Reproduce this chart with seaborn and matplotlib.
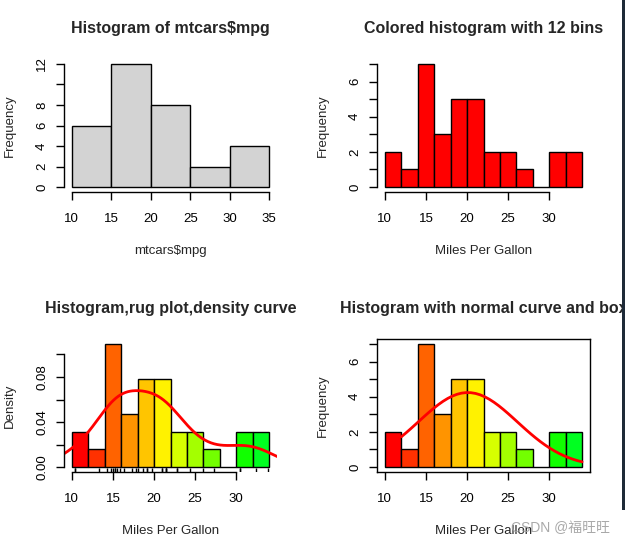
import numpy as np
import pandas as pd
import matplotlib
matplotlib.use("Agg")
import matplotlib.pyplot as plt
import seaborn as sns
from matplotlib.patches import Rectangle

# ---------------- data ----------------
mpg = [21.0, 21.0, 22.8, 21.4, 18.7, 18.1, 14.3, 24.4, 22.8, 19.2, 17.8,
       16.4, 17.3, 15.2, 10.4, 10.4, 14.7, 32.4, 30.4, 33.9, 21.5, 15.5,
       15.2, 13.3, 19.2, 27.3, 26.0, 30.4, 15.8, 19.7, 15.0, 21.4]

edges5 = [10, 15, 20, 25, 30, 35]
counts5 = [6, 12, 8, 2, 4]

edges12 = [10, 12, 14, 16, 18, 20, 22, 24, 26, 28, 30, 32, 34]
counts12 = [2, 1, 7, 3, 5, 5, 2, 2, 1, 0, 2, 2]

titles = ["Histogram of mtcars$mpg", "Colored histogram with 12 bins",
          "Histogram,rug plot,density curve", "Histogram with normal curve and box"]
xlabels = ["mtcars$mpg", "Miles Per Gallon", "Miles Per Gallon", "Miles Per Gallon"]
ylabels = ["Frequency", "Frequency", "Density", "Frequency"]

fit_range = [12, 34]   # x-range of the normal curve as drawn
n_fit = 40

bar_colors = ["#FF0000", "#FF3100", "#FF6300", "#FF9400", "#FFC500", "#FFF200",
              "#D6FF00", "#A4FF00", "#73FF00", "#42FF00", "#11FF00", "#00FF21"]

# ---------------- style ----------------
sns.set_theme(style="ticks")
plt.rcParams["font.family"] = ["Liberation Sans", "DejaVu Sans"]
plt.rcParams["axes.edgecolor"] = "black"
plt.rcParams["axes.linewidth"] = 1.0
plt.rcParams["xtick.color"] = "black"
plt.rcParams["ytick.color"] = "black"

W, H = 626, 542
fig = plt.figure(figsize=(W / 100, H / 100), dpi=100)
fig.patch.set_facecolor("white")


def make_ax(x0, x1, y0, y1):
    return fig.add_axes([x0 / W, 1 - y1 / H, (x1 - x0) / W, (y1 - y0) / H])


def r_limits(ax, xlo, xhi, ylo, yhi):
    dx = (xhi - xlo) * 0.04
    dy = (yhi - ylo) * 0.04
    ax.set_xlim(xlo - dx, xhi + dx)
    ax.set_ylim(ylo - dy, yhi + dy)


def r_axis(ax, xticks, yticks, ylabs, title, xlab, ylab, box=False):
    ax.set_xticks(xticks)
    ax.set_xticklabels([str(t) for t in xticks])
    ax.set_yticks(yticks)
    ax.set_yticklabels(ylabs)
    ax.tick_params(axis="both", direction="out", length=5.5, width=1,
                   labelsize=9.5, colors="black")
    ax.tick_params(axis="x", pad=9.5)
    ax.tick_params(axis="y", pad=6, labelrotation=90)
    plt.setp(ax.get_yticklabels(), va="center", ha="right")
    if box:
        for s in ax.spines.values():
            s.set_visible(True)
            s.set_color("black")
            s.set_linewidth(1)
    else:
        ax.spines["top"].set_visible(False)
        ax.spines["right"].set_visible(False)
        ax.spines["bottom"].set_bounds(xticks[0], xticks[-1])
        ax.spines["left"].set_bounds(yticks[0], yticks[-1])
    ax.set_xlabel(xlab, fontsize=9.5, va="center")
    ax.set_ylabel(ylab, fontsize=9.5, va="center")
    ax.xaxis.set_label_coords(0.5, -0.44)
    ax.yaxis.set_label_coords(-0.255, 0.5)
    ax.text(0.5, 1.23, title, transform=ax.transAxes, ha="center",
            va="center", fontsize=11.5, fontweight="bold", clip_on=False)
    ax.set_facecolor("white")


def mids(edges):
    return [(a + b) / 2 for a, b in zip(edges[:-1], edges[1:])]


# ---------------- panel 1 ----------------
ax1 = make_ax(64, 277, 59, 192)
sns.histplot(x=mids(edges5), weights=counts5, bins=edges5, stat="count",
             color="#D3D3D3", edgecolor="black", linewidth=1, alpha=1, ax=ax1)
r_limits(ax1, 10, 35, 0, 12)
r_axis(ax1, edges5, [0, 2, 4, 6, 8, 10, 12], ["0", "2", "4", "6", "8", "", "12"],
       titles[0], xlabels[0], ylabels[0])

# ---------------- panel 2 ----------------
ax2 = make_ax(377, 590, 59, 192)
sns.histplot(x=mids(edges12), weights=counts12, bins=edges12, stat="count",
             color="#FF0000", edgecolor="black", linewidth=1, alpha=1, ax=ax2)
r_limits(ax2, 10, 34, 0, max(counts12))
r_axis(ax2, [10, 15, 20, 25, 30], list(range(8)),
       ["0", "", "2", "", "4", "", "6", ""], titles[1], xlabels[1], ylabels[1])

# ---------------- panel 3 ----------------
ax3 = make_ax(64, 277, 339, 472)
sns.histplot(x=mids(edges12), weights=counts12, bins=edges12, stat="density",
             color="#FF0000", edgecolor="black", linewidth=1, alpha=1, ax=ax3)
for p, c in zip(ax3.patches, bar_colors):
    p.set_facecolor(c)
x = np.array(mpg)
q1, q3 = np.percentile(x, [25, 75])
bw = 0.9 * min(x.std(ddof=1), (q3 - q1) / 1.34) * len(x) ** -0.2
sns.kdeplot(x=x, bw_method=bw / x.std(ddof=1), cut=3, gridsize=400,
            color="red", linewidth=2, ax=ax3)
sns.rugplot(x=x, height=0.03, color="black", linewidth=1, ax=ax3)
dmax = max(counts12) / (sum(counts12) * 2)
r_limits(ax3, 10, 34, 0, dmax)
r_axis(ax3, [10, 15, 20, 25, 30], [0, 0.02, 0.04, 0.06, 0.08, 0.10],
       ["0.00", "", "0.04", "", "0.08", ""], titles[2], xlabels[2], ylabels[2])

# ---------------- panel 4 ----------------
ax4 = make_ax(377, 590, 339, 472)
sns.histplot(x=mids(edges12), weights=counts12, bins=edges12, stat="count",
             color="#FF0000", edgecolor="black", linewidth=1, alpha=1, ax=ax4)
for p, c in zip(ax4.patches, bar_colors):
    p.set_facecolor(c)
xfit = np.linspace(fit_range[0], fit_range[1], n_fit)
m, s = x.mean(), x.std(ddof=1)
yfit = np.exp(-0.5 * ((xfit - m) / s) ** 2) / (s * np.sqrt(2 * np.pi))
yfit = yfit * 2 * len(x)
sns.lineplot(x=xfit, y=yfit, color="red", linewidth=2, ax=ax4)
r_limits(ax4, 10, 34, 0, max(counts12))
r_axis(ax4, [10, 15, 20, 25, 30], list(range(8)),
       ["0", "", "2", "", "4", "", "6", ""], titles[3], xlabels[3], ylabels[3],
       box=True)

# ---------------- screenshot decorations ----------------
fig.add_artist(Rectangle((622 / W, 1 - 510 / H), 3 / W, 510 / H,
                         transform=fig.transFigure, facecolor="#1e2a38",
                         edgecolor="none", zorder=10))
fig.add_artist(Rectangle((625 / W, 0), 1 / W, 1, transform=fig.transFigure,
                         facecolor="white", edgecolor="none", zorder=11))
fig.text(610 / W, 1 - 528 / H, "CSDN @福旺旺", ha="right", va="center",
         fontsize=10, color="#a0a0a0", alpha=0.9,
         family=["Liberation Sans", "Noto Sans CJK SC"], zorder=12)

fig.savefig("out.png", dpi=100, facecolor="white")
